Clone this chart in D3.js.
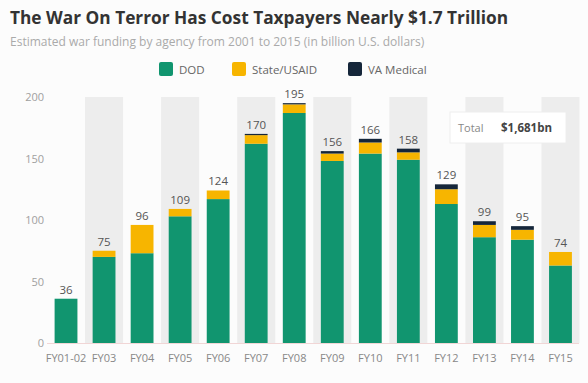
<!DOCTYPE html>
<html>
<head>
<meta charset="utf-8">
<script src="https://cdn.jsdelivr.net/npm/d3@7"></script>
<style>
  html, body { margin: 0; padding: 0; background: #fcfcfc; }
  svg { display: block; font-family: "Open Sans", "Noto Sans", sans-serif; }
</style>
</head>
<body>
<svg id="chart" width="588" height="383"></svg>
<script>
// Fiscal years
const categories = ["FY01-02", "FY03", "FY04", "FY05", "FY06", "FY07", "FY08", "FY09", "FY10", "FY11", "FY12", "FY13", "FY14", "FY15"];
// Funding by agency, billion U.S. dollars
const dod      = [36,  70, 73, 103, 117, 162, 187, 148, 154, 149, 113, 86, 84, 63];
const state    = [0,    5, 23,   6,   7,   7,   7,   6,   9,   6,  12, 10,  8, 11];
const va       = [0,    0,  0,   0,   0,   1,   1,   2,   3,   3,   4,  3,  3,  0];
const totals   = [36, 75, 96, 109, 124, 170, 195, 156, 166, 158, 129, 99, 95, 74];
const yTicks   = [0, 50, 100, 150, 200];
const seriesNames = ["DOD", "State/USAID", "VA Medical"];
const colors = ["#11956f", "#f7b500", "#15263a"];
const totalLabel = "$1,681bn";

const svg = d3.select("#chart");

// Title and subtitle
svg.append("text").attr("x", 10).attr("y", 24)
  .attr("font-size", 17.3).attr("font-weight", 700).attr("fill", "#333")
  .text("The War On Terror Has Cost Taxpayers Nearly $1.7 Trillion");
svg.append("text").attr("x", 10).attr("y", 46)
  .attr("font-size", 12).attr("fill", "#aaa")
  .text("Estimated war funding by agency from 2001 to 2015 (in billion U.S. dollars)");

const x = d3.scaleBand().domain(categories).range([47, 579.5]).padding(0);
const y = d3.scaleLinear().domain([0, 200]).range([343, 97]);

// Alternating column shading
svg.append("g").selectAll("rect")
  .data(categories.filter((d, i) => i % 2 === 1))
  .join("rect")
  .attr("x", d => x(d)).attr("width", x.bandwidth())
  .attr("y", y(200)).attr("height", y(0) - y(200))
  .attr("fill", "#ededed");

// Y axis labels
const yAxis = d3.axisLeft(y).tickValues(yTicks).tickSize(0).tickPadding(0);
const gy = svg.append("g").attr("transform", "translate(44,0)").call(yAxis);
gy.select(".domain").remove();
gy.selectAll("text").attr("font-size", 11).attr("fill", "#a0a0a0").attr("font-family", "Open Sans, sans-serif");

// Baseline
svg.append("line").attr("x1", 47).attr("x2", 579).attr("y1", y(0) + 0.5).attr("y2", y(0) + 0.5)
  .attr("stroke", "#f1d6d6").attr("stroke-width", 1);

// Stacked bars
const rows = categories.map((c, i) => ({ cat: c, DOD: dod[i], "State/USAID": state[i], "VA Medical": va[i] }));
const stack = d3.stack().keys(seriesNames)(rows);
const barW = x.bandwidth() * 0.6;
svg.append("g").selectAll("g")
  .data(stack).join("g")
  .attr("fill", (d, i) => colors[i])
  .selectAll("rect")
  .data(d => d).join("rect")
  .attr("x", d => x(d.data.cat) + (x.bandwidth() - barW) / 2)
  .attr("width", barW)
  .attr("y", d => y(d[1]))
  .attr("height", d => y(d[0]) - y(d[1]));

// Total labels above bars
svg.append("g").selectAll("text")
  .data(categories).join("text")
  .attr("x", d => x(d) + x.bandwidth() / 2)
  .attr("y", (d, i) => y(totals[i]) - 5)
  .attr("text-anchor", "middle").attr("font-size", 11.5).attr("fill", "#555")
  .text((d, i) => totals[i]);

// X axis labels
const xAxis = d3.axisBottom(x).tickSize(0).tickPadding(0);
const gx = svg.append("g").attr("transform", `translate(0,${y(0) + 11})`).call(xAxis);
gx.select(".domain").remove();
gx.selectAll("text").attr("font-size", 11).attr("fill", "#888").attr("font-family", "Open Sans, sans-serif");

// Legend
const legendX = [159, 232, 348];
const legend = svg.append("g").selectAll("g").data(seriesNames).join("g")
  .attr("transform", (d, i) => `translate(${legendX[i]},62)`);
legend.append("rect").attr("width", 14).attr("height", 14).attr("rx", 2)
  .attr("fill", (d, i) => colors[i]);
legend.append("text").attr("x", 20).attr("y", 11.5)
  .attr("font-size", 11.5).attr("fill", "#666").text(d => d);

// Total callout
const box = svg.append("g").attr("transform", "translate(450,112)");
box.append("rect").attr("width", 116).attr("height", 31).attr("fill", "#fff")
  .attr("stroke", "#eee").attr("stroke-width", 1);
box.append("text").attr("x", 8).attr("y", 20).attr("font-size", 11).attr("fill", "#888").text("Total");
box.append("text").attr("x", 51).attr("y", 20).attr("font-size", 11.5).attr("font-weight", 700)
  .attr("fill", "#444").text(totalLabel);
</script>
</body>
</html>
